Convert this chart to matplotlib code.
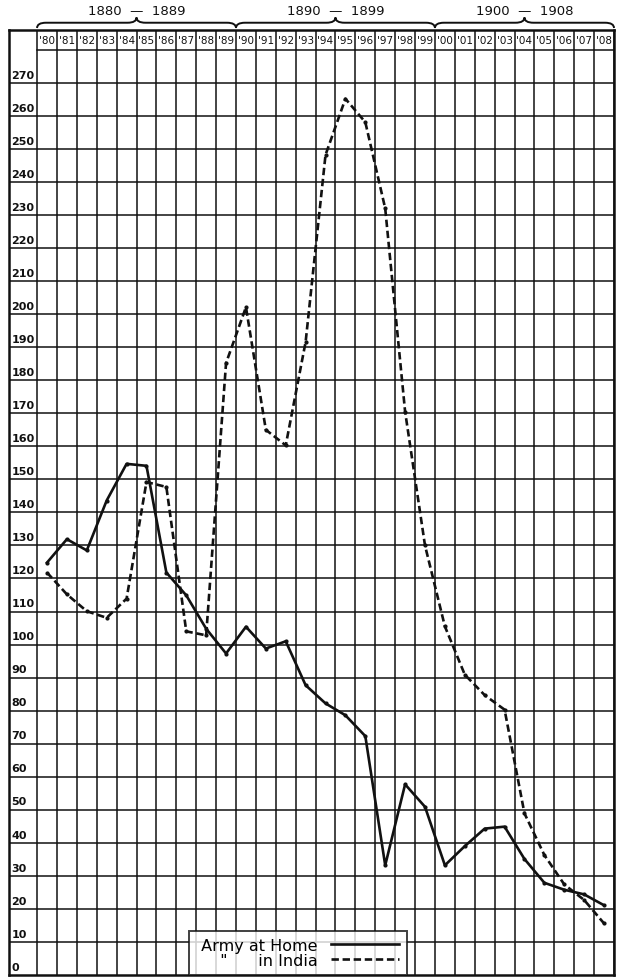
import matplotlib
matplotlib.use("Agg")
import matplotlib.pyplot as plt
from matplotlib.path import Path
from matplotlib.patches import PathPatch

years = list(range(1880, 1909))
year_labels = ["'%02d" % (y % 100) for y in years]

# army at home (solid) and army in india (dashed)
home = [124.8, 131.9, 128.5, 143.6, 154.7, 154.1, 121.8, 114.9, 104.8, 97.3,
        105.4, 98.8, 101.0, 87.7, 82.2, 78.6, 72.3, 33.2, 57.7, 50.9,
        33.2, 39.0, 44.3, 44.9, 35.1, 27.9, 25.8, 24.4, 21.1]
india = [121.8, 115.2, 110.1, 108.1, 113.9, 149.2, 147.7, 104.0, 102.8, 185.2,
         202.1, 165.0, 160.3, 191.6, 248.2, 265.2, 258.1, 232.0, 170.5, 130.0,
         105.5, 90.9, 84.7, 80.3, 48.9, 36.3, 27.4, 22.7, 15.6]

y_ticks = list(range(0, 280, 10))
decades = [("1880  —  1889", 1880, 1889),
           ("1890  —  1899", 1890, 1899),
           ("1900  —  1908", 1900, 1908)]

INK = "#111111"
plt.rcParams["font.family"] = ["DejaVu Sans"]

fig = plt.figure(figsize=(6.23, 9.79), dpi=100)
ax = fig.add_axes([9 / 623, 3 / 979, 605 / 623, 945 / 979])

label_w = 1.41
top = 286
ax.set_xlim(-label_w, len(years))
ax.set_ylim(0, top)
ax.set_xticks([])
ax.set_yticks([])
for s in ax.spines.values():
    s.set_linewidth(1.8)
    s.set_color(INK)

# grid
for i in range(len(years) + 1):
    ax.plot([i, i], [0, top], color=INK, lw=1.1, zorder=1)
for v in y_ticks[1:]:
    ax.plot([-label_w, len(years)], [v, v], color=INK, lw=1.1, zorder=1)
ax.plot([0, len(years)], [280, 280], color=INK, lw=1.1, zorder=1)

for v in y_ticks:
    ax.text(-label_w + 0.12, v + 1.0, str(v), fontsize=8, fontweight="bold",
            ha="left", va="bottom", color=INK)

for i, lab in enumerate(year_labels):
    ax.text(i + 0.5, 282.9, lab, fontsize=7.5, ha="center", va="center", color=INK)

# braces over the decades
def brace(x0, x1, y_end=286.6, y_body=288.2, y_tip=289.8, r=0.45):
    xm = (x0 + x1) / 2
    verts = [(x0, y_end), (x0, y_body), (x0 + r, y_body),
             (xm - r, y_body), (xm, y_body), (xm, y_tip),
             (xm, y_body), (xm + r, y_body),
             (x1 - r, y_body), (x1, y_body), (x1, y_end)]
    codes = [Path.MOVETO, Path.CURVE3, Path.CURVE3,
             Path.LINETO, Path.CURVE3, Path.CURVE3,
             Path.CURVE3, Path.CURVE3,
             Path.LINETO, Path.CURVE3, Path.CURVE3]
    ax.add_patch(PathPatch(Path(verts, codes), fill=False, ec=INK, lw=1.4,
                           clip_on=False))

for lab, a, b in decades:
    x0 = a - years[0]
    x1 = b - years[0] + 1
    brace(x0, x1)
    ax.text((x0 + x1) / 2, 291.9, lab, fontsize=9.5, ha="center", va="center",
            color=INK, clip_on=False)

xs = [y - years[0] + 0.5 for y in years]
ax.plot(xs, home, color=INK, lw=1.9, marker="o", ms=2, zorder=3,
        label=" Army at Home")
ax.plot(xs, india, color=INK, lw=1.9, ls=(0, (2.8, 1.4)), marker="o", ms=2,
        zorder=3, label='  "      in India')

leg = ax.legend(loc="lower left", bbox_to_anchor=((7.65 + label_w) / (len(years) + label_w), 0),
                borderaxespad=0, markerfirst=False, fancybox=False, frameon=True,
                fontsize=11.5, handlelength=4.3, handletextpad=0.8,
                borderpad=0.45, labelspacing=0.0, edgecolor=INK)
leg.get_frame().set_linewidth(1.4)
for h in leg.get_lines():
    h.set_marker("")
leg.set_zorder(5)

fig.savefig("out.png", dpi=100, facecolor="white")
